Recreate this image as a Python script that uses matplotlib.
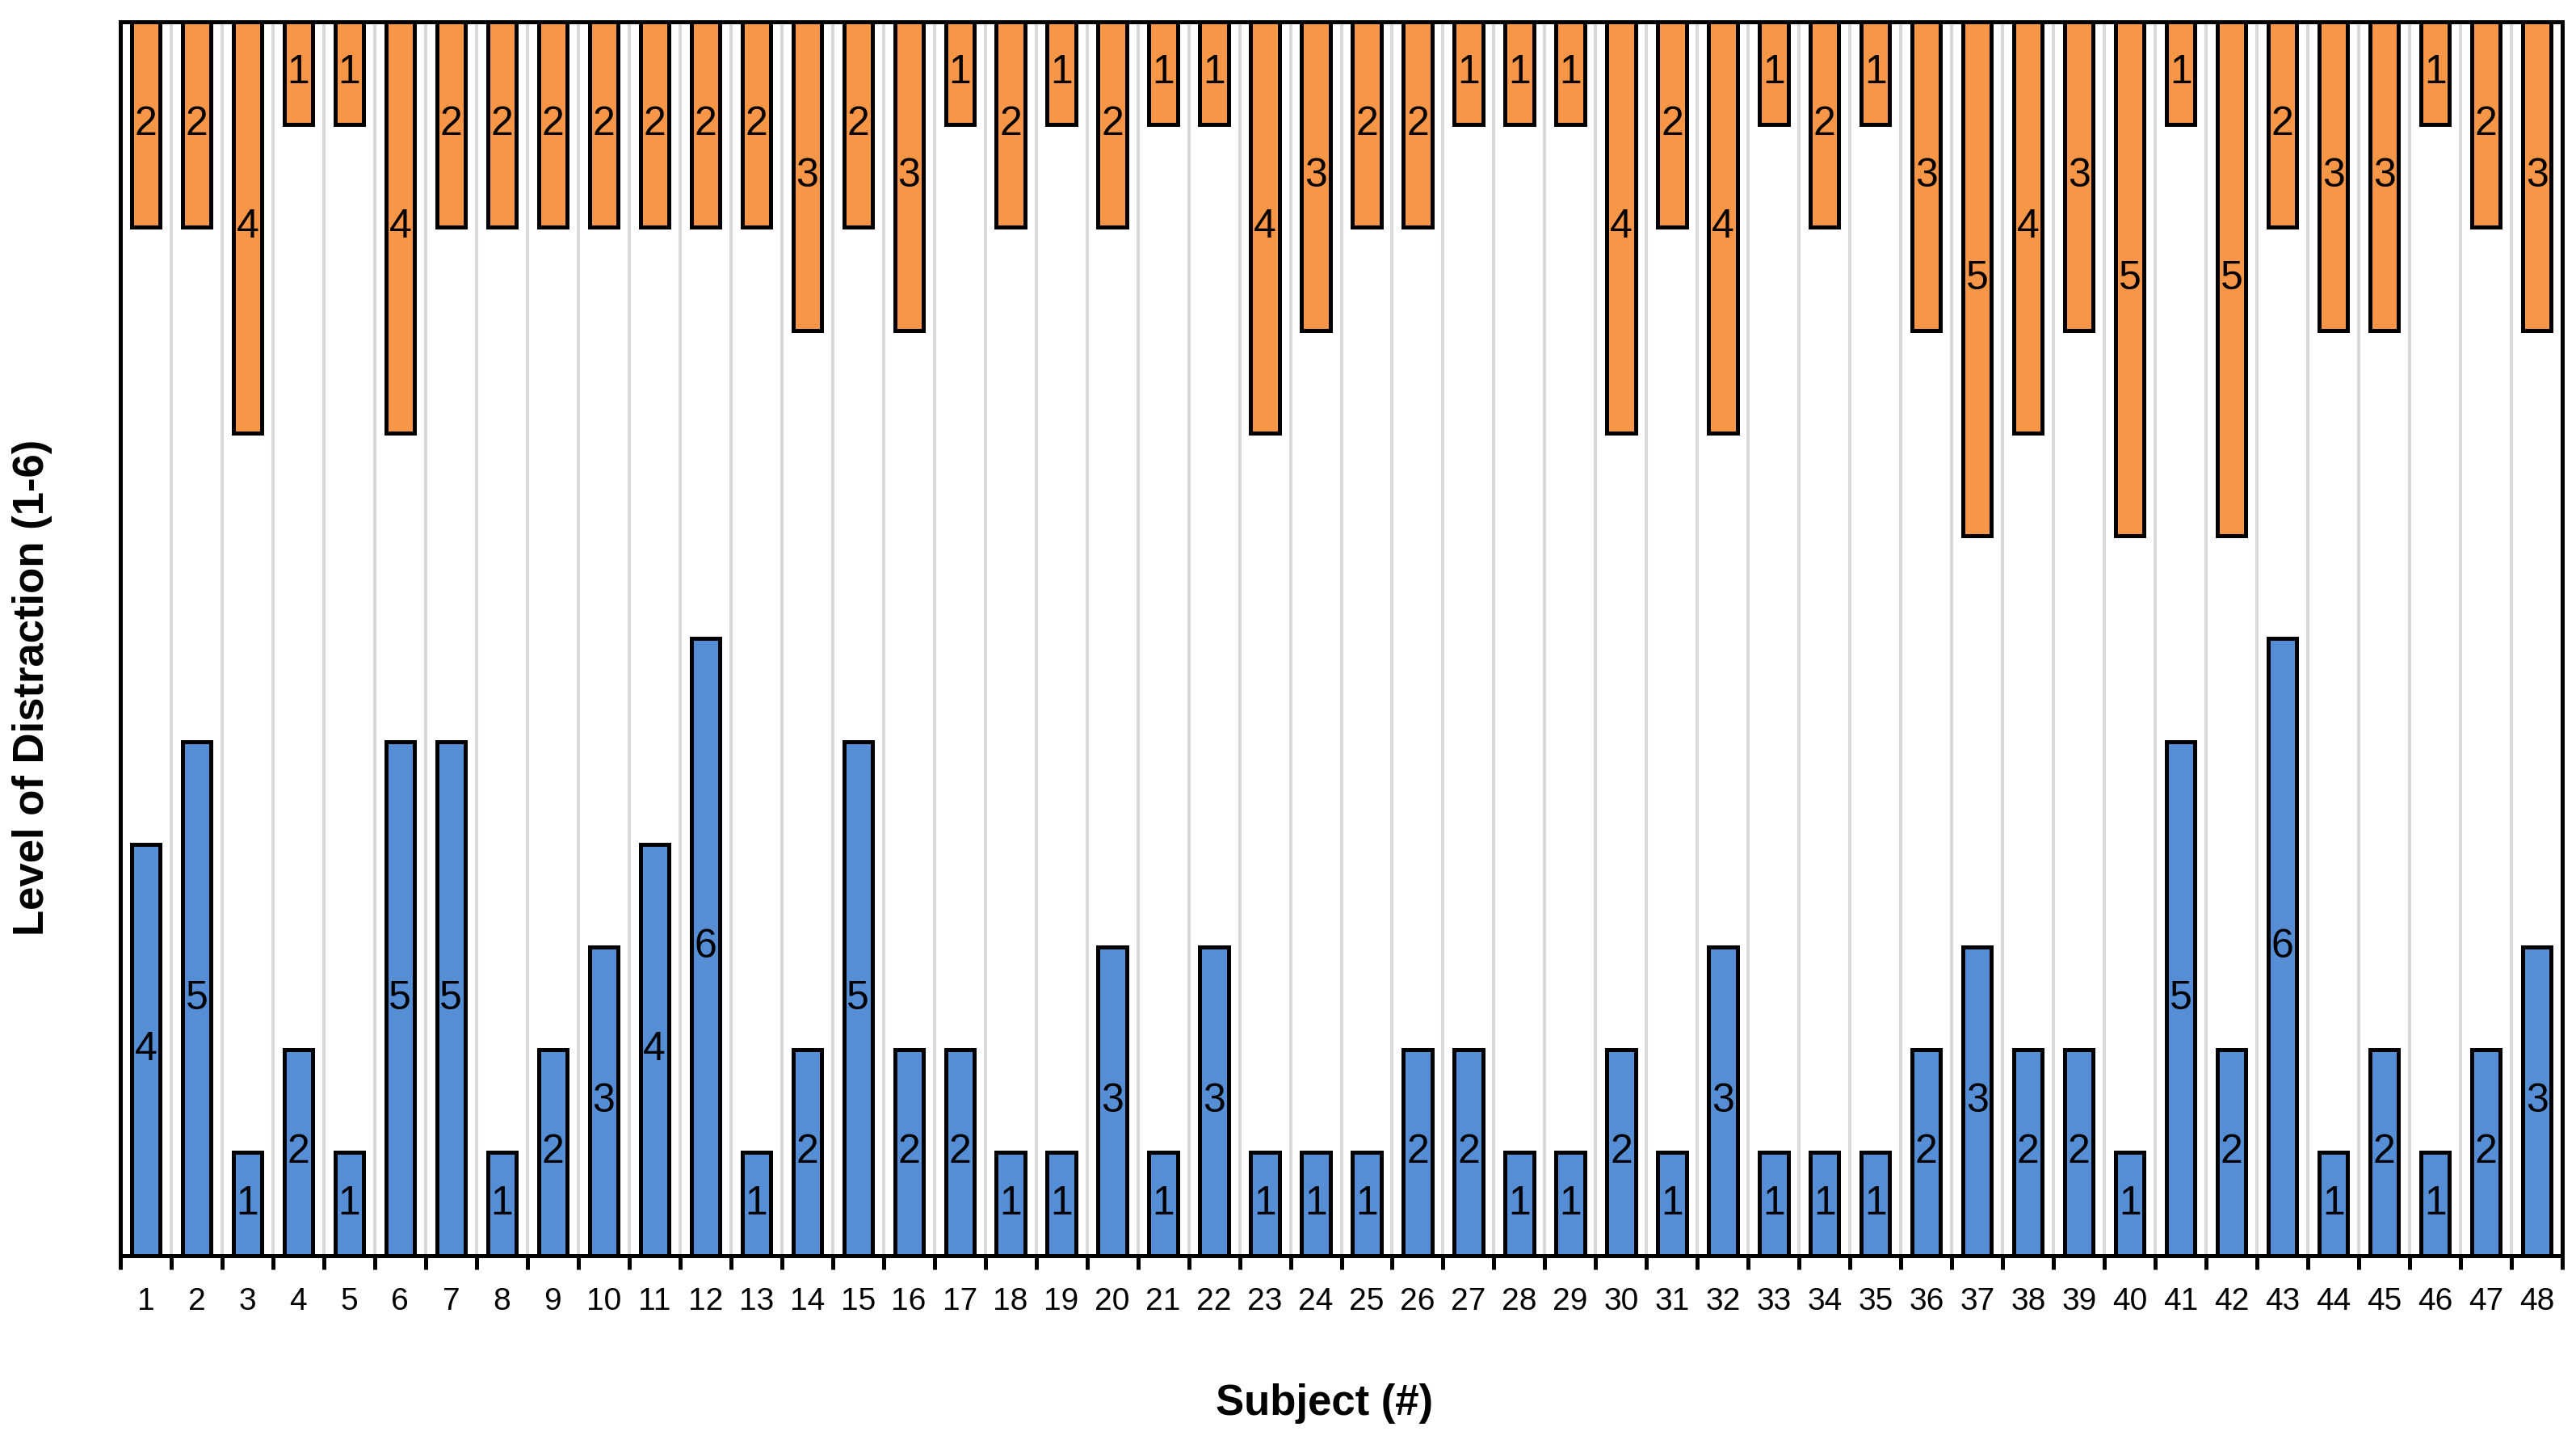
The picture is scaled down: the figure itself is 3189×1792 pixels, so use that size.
import numpy as np
import matplotlib
matplotlib.use("Agg")
import matplotlib.pyplot as plt

plt.rcParams["font.family"] = ["Liberation Sans", "DejaVu Sans"]

# ==================== DATA ====================
subjects = list(range(1, 49))

# blue bars, rising from the bottom
bottom_vals = [4, 5, 1, 2, 1, 5, 5, 1, 2, 3, 4, 6, 1, 2, 5, 2, 2, 1, 1, 3, 1, 3, 1, 1,
               1, 2, 2, 1, 1, 2, 1, 3, 1, 1, 1, 2, 3, 2, 2, 1, 5, 2, 6, 1, 2, 1, 2, 3]

# orange bars, hanging from the top
top_vals = [2, 2, 4, 1, 1, 4, 2, 2, 2, 2, 2, 2, 2, 3, 2, 3, 1, 2, 1, 2, 1, 1, 4, 3,
            2, 2, 1, 1, 1, 4, 2, 4, 1, 2, 1, 3, 5, 4, 3, 5, 1, 5, 2, 3, 3, 1, 2, 3]

Y_MAX = 12

# ==================== VISUAL SETTINGS ====================
BLUE = "#558ED5"
ORANGE = "#F79646"
BAR_W = 0.56
EDGE_LW = 1.8
LABEL_FS = 18
TICK_FS = 14
AXLABEL_FS = 19

fig = plt.figure(figsize=(15.945, 8.96), dpi=200)
ax = fig.add_axes([0.0467, 0.133, 0.948, 0.852])

x = np.array(subjects)
top_arr = np.array(top_vals)
bot_arr = np.array(bottom_vals)

b_blue = ax.bar(x, bot_arr, width=BAR_W, color=BLUE, edgecolor="black",
                linewidth=EDGE_LW, zorder=3)
b_orange = ax.bar(x, top_arr, bottom=Y_MAX - top_arr, width=BAR_W, color=ORANGE,
                  edgecolor="black", linewidth=EDGE_LW, zorder=3)

ax.bar_label(b_blue, labels=[str(v) for v in bottom_vals], label_type="center",
             fontsize=LABEL_FS, zorder=4)
ax.bar_label(b_orange, labels=[str(v) for v in top_vals], label_type="center",
             fontsize=LABEL_FS, zorder=4)

ax.set_xlim(0.5, len(subjects) + 0.5)
ax.set_ylim(0, Y_MAX)

# ticks at the category boundaries, labels at the centres
bounds = np.arange(0.5, len(subjects) + 1.0, 1.0)
ax.set_xticks(bounds)
ax.set_xticklabels([])
ax.set_xticks(x, minor=True)
ax.set_xticklabels([str(s) for s in subjects], minor=True, fontsize=TICK_FS)
ax.tick_params(axis="x", which="major", direction="out", length=6, width=EDGE_LW)
ax.tick_params(axis="x", which="minor", length=0, pad=14)
ax.set_yticks([])

ax.grid(True, axis="x", which="major", color="#d9d9d9", linewidth=1.5, zorder=0)
ax.set_axisbelow(True)

for sp in ax.spines.values():
    sp.set_linewidth(EDGE_LW)
    sp.set_zorder(5)

ax.set_xlabel("Subject (#)", fontsize=AXLABEL_FS, fontweight="bold")
ax.xaxis.label.set_va("center")
ax.xaxis.set_label_coords(0.493, -0.12)
ax.set_ylabel("Level of Distraction (1-6)", fontsize=AXLABEL_FS, fontweight="bold")
ax.yaxis.label.set_va("center")
ax.yaxis.set_label_coords(-0.036, 0.46)

fig.savefig("out.png", dpi=200)
